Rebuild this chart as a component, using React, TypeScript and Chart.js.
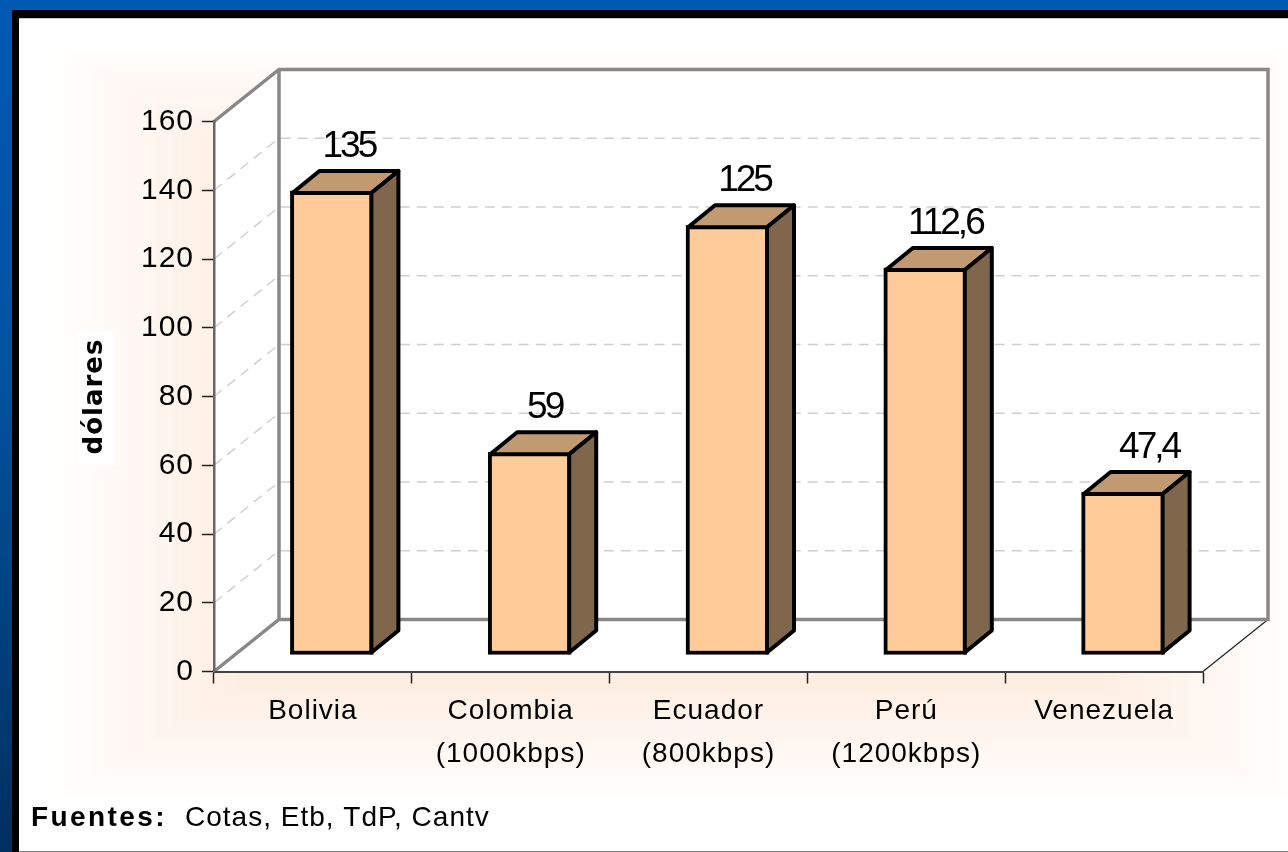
import React, { useEffect, useRef } from "react";
import { Chart, registerables } from "chart.js";

Chart.register(...registerables);

const categories = [["Bolivia"], ["Colombia", "(1000kbps)"], ["Ecuador", "(800kbps)"], ["Perú", "(1200kbps)"], ["Venezuela"]];
const prices = [135, 59, 125, 112.6, 47.4];
const labelNudge = [0, -2, 0, 3, 9];
const yTicksMax = 160;
const yStep = 20;
const sourceLabel = "Fuentes:";
const sourceText = "Cotas, Etb, TdP, Cantv";
const yTitle = "dólares";

const FONT = "'Liberation Sans', Arial, sans-serif";
const WALL_DX = 65;
const WALL_DY = -52;
const BAR_SHIFT_X = 19;
const BAR_SHIFT_Y = -16.5;
const BAR_DX = 27;
const BAR_DY = -22;
const STROKE = 4;

function drawFrame(ctx: CanvasRenderingContext2D, W: number, H: number) {
  ctx.fillStyle = "#ffffff";
  ctx.fillRect(0, 0, W, H);
  // soft peach rectangular glow
  const steps = 36;
  for (let i = 0; i <= steps; i++) {
    const t = i / steps;
    const r = 255 - 1 * t;
    const g = 255 - 17 * t;
    const b = 255 - 30 * t;
    ctx.fillStyle = `rgb(${r},${g},${b})`;
    const x0 = 50 + 190 * t;
    const x1 = 1300 - 200 * t;
    const y0 = 40 + 120 * t;
    const y1 = 805 - 120 * t;
    ctx.fillRect(x0, y0, x1 - x0, y1 - y0);
  }
  // blue surround
  const grad = ctx.createLinearGradient(0, 0, 0, H);
  grad.addColorStop(0, "#0059b3");
  grad.addColorStop(0.45, "#00539f");
  grad.addColorStop(1, "#002f5f");
  ctx.fillStyle = grad;
  ctx.fillRect(0, 0, 12, H);
  ctx.fillStyle = "#0059b3";
  ctx.fillRect(0, 0, W, 10);
  // black border
  ctx.fillStyle = "#000000";
  ctx.fillRect(12, 10, W - 12, 8);
  ctx.fillRect(12, 10, 7, H - 10);
  ctx.fillStyle = "#c8c8c8";
  ctx.fillRect(19, 18, W - 19, 1);
  ctx.fillStyle = "#808080";
  ctx.fillRect(19, H - 1, W - 19, 1);
}

const scene3d = {
  id: "scene3d",
  beforeDraw(chart: any) {
    const { ctx, chartArea: a, scales } = chart;
    const y = scales.y;
    ctx.save();
    drawFrame(ctx, chart.width, chart.height);
    const L = a.left, R = a.right, T = a.top, B = a.bottom;
    // white walls and floor
    ctx.fillStyle = "#ffffff";
    ctx.beginPath();
    ctx.moveTo(L, T);
    ctx.lineTo(L + WALL_DX, T + WALL_DY);
    ctx.lineTo(R + WALL_DX, T + WALL_DY);
    ctx.lineTo(R + WALL_DX, B + WALL_DY);
    ctx.lineTo(R, B);
    ctx.lineTo(L, B);
    ctx.closePath();
    ctx.fill();
    // dashed grid
    ctx.strokeStyle = "#cfcfcf";
    ctx.lineWidth = 1.5;
    ctx.setLineDash([10, 7]);
    for (let v = yStep; v < yTicksMax; v += yStep) {
      const py = y.getPixelForValue(v);
      ctx.beginPath();
      ctx.moveTo(L, py);
      ctx.lineTo(L + WALL_DX, py + WALL_DY);
      ctx.lineTo(R + WALL_DX, py + WALL_DY);
      ctx.stroke();
    }
    ctx.setLineDash([]);
    // thin front-right floor edge
    ctx.strokeStyle = "#222222";
    ctx.lineWidth = 1.2;
    ctx.beginPath();
    ctx.moveTo(R, B);
    ctx.lineTo(R + WALL_DX, B + WALL_DY);
    ctx.stroke();
    // grey wall outlines
    ctx.strokeStyle = "#888888";
    ctx.lineWidth = 3.5;
    ctx.lineJoin = "miter";
    ctx.beginPath();
    ctx.moveTo(L, T);
    ctx.lineTo(L + WALL_DX, T + WALL_DY);
    ctx.lineTo(R + WALL_DX, T + WALL_DY);
    ctx.lineTo(R + WALL_DX, B + WALL_DY);
    ctx.lineTo(L + WALL_DX, B + WALL_DY);
    ctx.lineTo(L, B);
    ctx.moveTo(L + WALL_DX, T + WALL_DY);
    ctx.lineTo(L + WALL_DX, B + WALL_DY);
    ctx.stroke();
    // white patch behind the axis title
    ctx.fillStyle = "#ffffff";
    ctx.fillRect(77, 332, 38, 134);
    // source note
    ctx.fillStyle = "#000000";
    ctx.textAlign = "left";
    ctx.textBaseline = "alphabetic";
    ctx.font = `bold 28px ${FONT}`;
    (ctx as any).letterSpacing = "2.4px";
    ctx.fillText(sourceLabel, 31, 826);
    ctx.font = `28px ${FONT}`;
    (ctx as any).letterSpacing = "1px";
    ctx.fillText(sourceText, 185, 826);
    ctx.restore();
    (ctx as any).letterSpacing = "1px";
  },
  beforeDatasetsDraw(chart: any) {
    const { ctx } = chart;
    ctx.save();
    ctx.translate(BAR_SHIFT_X, BAR_SHIFT_Y);
  },
  afterDatasetsDraw(chart: any) {
    const { ctx } = chart;
    ctx.restore();
    const meta = chart.getDatasetMeta(0);
    ctx.save();
    ctx.lineWidth = STROKE;
    ctx.lineJoin = "round";
    ctx.strokeStyle = "#000000";
    meta.data.forEach((el: any, i: number) => {
      const l = el.x - el.width / 2 + BAR_SHIFT_X + STROKE / 2;
      const r = el.x + el.width / 2 + BAR_SHIFT_X - STROKE / 2;
      const t = el.y + BAR_SHIFT_Y + STROKE / 2;
      const b = el.base + BAR_SHIFT_Y - STROKE / 2;
      ctx.fillStyle = "#c19a72";
      ctx.beginPath();
      ctx.moveTo(l, t);
      ctx.lineTo(r, t);
      ctx.lineTo(r + BAR_DX, t + BAR_DY);
      ctx.lineTo(l + BAR_DX, t + BAR_DY);
      ctx.closePath();
      ctx.fill();
      ctx.stroke();
      ctx.fillStyle = "#80664a";
      ctx.beginPath();
      ctx.moveTo(r, t);
      ctx.lineTo(r + BAR_DX, t + BAR_DY);
      ctx.lineTo(r + BAR_DX, b + BAR_DY);
      ctx.lineTo(r, b);
      ctx.closePath();
      ctx.fill();
      ctx.stroke();
      ctx.fillStyle = "#000000";
      ctx.font = `37px ${FONT}`;
      ctx.textAlign = "center";
      ctx.textBaseline = "alphabetic";
      (ctx as any).letterSpacing = "-3px";
      const label = String(prices[i]).replace(".", ",");
      ctx.fillText(label, (l + r) / 2 + 17 + labelNudge[i], t + BAR_DY - 14);
    });
    ctx.restore();
  },
};

export default function App() {
  const ref = useRef<HTMLCanvasElement | null>(null);
  useEffect(() => {
    document.body.style.margin = "0";
    const canvas = ref.current!;
    const chart = new Chart(canvas, {
      type: "bar",
      data: {
        labels: categories as any,
        datasets: [
          {
            data: prices,
            backgroundColor: "#ffcc99",
            borderColor: "#000000",
            borderWidth: STROKE,
            borderSkipped: false,
            barThickness: 83,
          },
        ],
      },
      options: {
        responsive: false,
        animation: false,
        devicePixelRatio: 1,
        layout: { padding: { left: 0, top: 121.5, right: 85, bottom: 0 } },
        plugins: { legend: { display: false }, tooltip: { enabled: false }, title: { display: false } },
        scales: {
          x: {
            afterFit: (s: any) => { s.height = 180.5; },
            grid: { drawOnChartArea: false, tickLength: 12, tickColor: "#222222", tickWidth: 1.5, offset: true },
            border: { color: "#444444", width: 2 },
            ticks: {
              color: "#000000",
              padding: 6,
              maxRotation: 0,
              autoSkip: false,
              font: { family: FONT, size: 28, lineHeight: 1.55 },
            },
          },
          y: {
            min: 0,
            max: yTicksMax,
            afterFit: (s: any) => { s.width = 214; },
            grid: { drawOnChartArea: false, tickLength: 12, tickColor: "#222222", tickWidth: 1.5 },
            border: { color: "#666666", width: 2.5 },
            title: {
              display: true,
              text: yTitle,
              color: "#000000",
              font: { family: "'DejaVu Sans', sans-serif", weight: "bold", size: 26 },
              padding: { top: 80, bottom: 0 },
            },
            ticks: {
              color: "#000000",
              stepSize: yStep,
              padding: 8,
              font: { family: FONT, size: 30 },
            },
          },
        },
      },
      plugins: [scene3d],
    } as any);
    return () => chart.destroy();
  }, []);
  return (
    <div style={{ position: "absolute", left: 0, top: 0, width: 1288, height: 852, overflow: "hidden" }}>
      <canvas ref={ref} width={1288} height={852} style={{ display: "block", width: 1288, height: 852 }} />
    </div>
  );
}
